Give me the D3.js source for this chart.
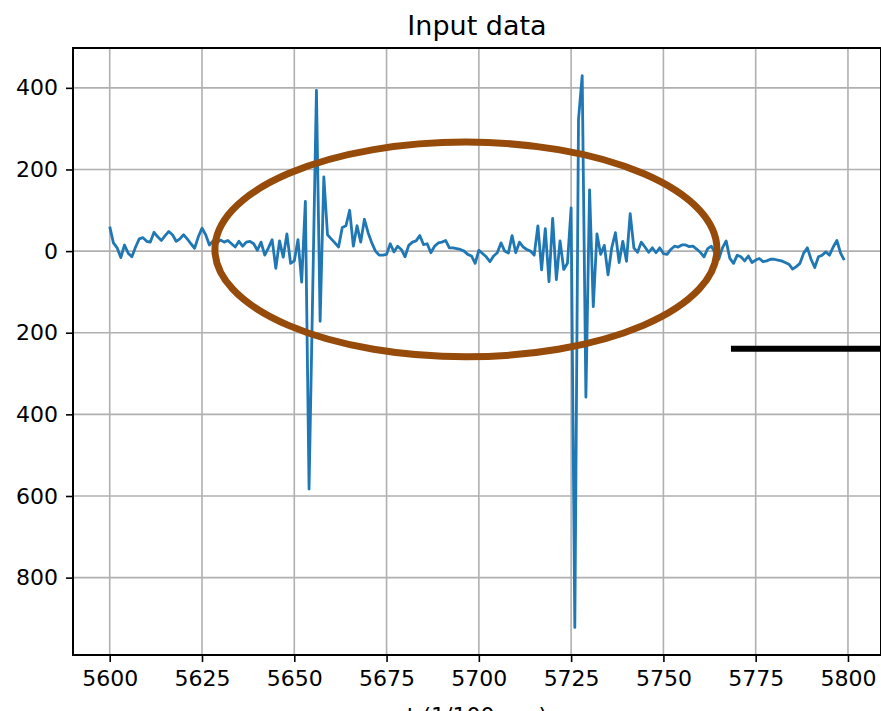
<!DOCTYPE html>
<html>
<head>
<meta charset="utf-8">
<script src="https://cdn.jsdelivr.net/npm/d3@7"></script>
<style>
  body { margin: 0; background: #fff; overflow: hidden; }
  svg { display: block; }
</style>
</head>
<body>
<div id="chart"></div>
<script>
// samples t = 5600 .. 5799 (one per 1/100 s)
const tStart = 5600;
const signal = [
  60, 20, 8, -16, 15, -5, -14, 10, 30, 33,
  24, 22, 46, 35, 26, 38, 48, 40, 24, 30,
  40, 30, 18, 7, 35, 56, 40, 15, 25, 20,
  27, 22, 26, 18, 10, 24, 12, 22, 24, 18,
  2, 22, -10, 8, 28, -42, 25, -15, 42, -30,
  -24, 28, -76, 122, -583, -95, 394, -172, 182, 40,
  30, 20, 10, 58, 62, 100, 12, 62, 22, 78,
  45, 20, 0, -10, -10, -8, 18, -2, 12, 4,
  -14, 14, 22, 25, 38, 16, 18, -4, 12, 20,
  22, 26, 8, 8, 6, 4, 0, -8, -12, -30,
  2, -6, -14, -26, -12, -4, 20, 0, -5, 38,
  -4, 22, 10, 4, 0, -10, 62, -46, 55, -75,
  80, -70, 25, -45, -30, 106, -922, 323, 430, -358,
  150, -136, 42, -8, 14, -58, 8, 45, -28, 24,
  -25, 92, 8, -3, 22, 10, -3, 8, -4, 8,
  -6, -8, 4, 12, 10, 15, 15, 11, 12, 5,
  -3, -14, 6, 12, -5, -20, 8, 25, -18, -30,
  -10, -14, -24, -12, -28, -22, -18, -26, -24, -20,
  -20, -22, -24, -28, -32, -44, -38, -30, -5, 8,
  -20, -40, -14, -10, -2, -10, 10, 26, -5, -22
];
const xTicks = [5600, 5625, 5650, 5675, 5700, 5725, 5750, 5775, 5800];
const yTicks = [400, 200, 0, -200, -400, -600, -800];

// hand-drawn annotations (data coordinates)
const ellipseCenter = [5696.5, 4];
const ellipseRadii = [68, 263];
const barFrom = [5768.3, -239];

const width = 881, height = 711;
const plot = {left: 73, top: 48, right: 881, bottom: 655};

const svg = d3.select('#chart').append('svg')
  .attr('width', width)
  .attr('height', height)
  .style('font-family', '"DejaVu Sans", sans-serif');

const data = signal.map((v, i) => ({t: tStart + i, v: v}));

const x = d3.scaleLinear()
  .domain([5590.05, 5808.95])
  .range([plot.left, plot.right]);
const y = d3.scaleLinear()
  .domain([-989.6, 497.6])
  .range([plot.bottom, plot.top]);

// grid
svg.append('g')
  .selectAll('line')
  .data(xTicks)
  .join('line')
  .attr('x1', d => x(d)).attr('x2', d => x(d))
  .attr('y1', plot.top).attr('y2', plot.bottom)
  .attr('stroke', '#b0b0b0').attr('stroke-width', 1.6);
svg.append('g')
  .selectAll('line')
  .data(yTicks)
  .join('line')
  .attr('x1', plot.left).attr('x2', plot.right)
  .attr('y1', d => y(d)).attr('y2', d => y(d))
  .attr('stroke', '#b0b0b0').attr('stroke-width', 1.6);

// signal
const line = d3.line().x(d => x(d.t)).y(d => y(d.v));
svg.append('path')
  .datum(data)
  .attr('d', line)
  .attr('fill', 'none')
  .attr('stroke', '#1f77b4')
  .attr('stroke-width', 2.8)
  .attr('stroke-linejoin', 'round');

// axes (minus signs are missing in the original labels)
const xAxis = d3.axisBottom(x).tickValues(xTicks).tickSize(7).tickPadding(8)
  .tickFormat(d3.format('d'));
const yAxis = d3.axisLeft(y).tickValues(yTicks).tickSize(7).tickPadding(8)
  .tickFormat(d => String(Math.abs(d)));

const gx = svg.append('g')
  .attr('transform', `translate(0,${plot.bottom})`)
  .call(xAxis);
const gy = svg.append('g')
  .attr('transform', `translate(${plot.left},0)`)
  .call(yAxis);
[gx, gy].forEach(g => {
  g.select('.domain').remove();
  g.selectAll('.tick line').attr('stroke', '#000').attr('stroke-width', 1.6);
  g.selectAll('.tick text')
    .attr('fill', '#000')
    .style('font-size', '22px')
    .style('font-family', '"DejaVu Sans", sans-serif');
});
gx.selectAll('.tick text').attr('dy', '0.71em');

// frame
svg.append('rect')
  .attr('x', plot.left).attr('y', plot.top)
  .attr('width', plot.right - plot.left).attr('height', plot.bottom - plot.top)
  .attr('fill', 'none').attr('stroke', '#000').attr('stroke-width', 2);

// title and x label (label is cut by the bottom edge, as in the original)
svg.append('text')
  .attr('x', (plot.left + plot.right) / 2).attr('y', 35)
  .attr('text-anchor', 'middle')
  .style('font-size', '27px')
  .text('Input data');
svg.append('text')
  .attr('x', (plot.left + plot.right) / 2).attr('y', 723)
  .attr('text-anchor', 'middle')
  .style('font-size', '22px')
  .text('t (1/100 sec)');

// annotations
const ex = x(ellipseCenter[0]), ey = y(ellipseCenter[1]);
svg.append('ellipse')
  .attr('cx', ex).attr('cy', ey)
  .attr('rx', x(ellipseCenter[0] + ellipseRadii[0]) - ex)
  .attr('ry', y(ellipseCenter[1] - ellipseRadii[1]) - ey)
  .attr('fill', 'none')
  .attr('stroke', '#964b0a')
  .attr('stroke-width', 7);

svg.append('line')
  .attr('x1', x(barFrom[0])).attr('x2', width)
  .attr('y1', y(barFrom[1])).attr('y2', y(barFrom[1]))
  .attr('stroke', '#000')
  .attr('stroke-width', 6);
</script>
</body>
</html>
